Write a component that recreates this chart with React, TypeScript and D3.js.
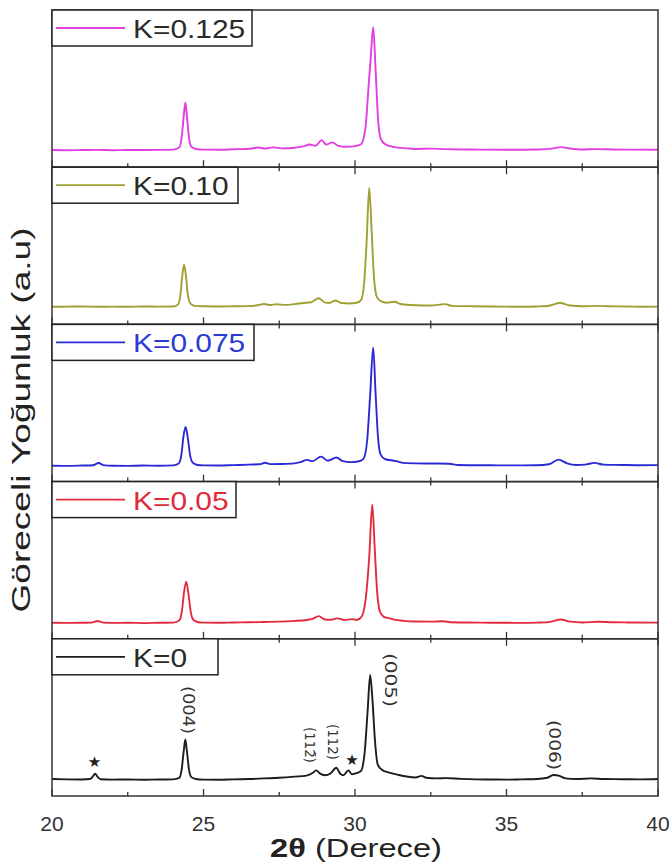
import React from "react";
import * as d3 from "d3";

// XRD patterns, x = 2theta (deg), y = relative intensity (0-100 per panel)
const k0125: [number, number][] = [
  [20.0, 10.9], [20.5, 10.8], [21.0, 10.9], [21.5, 11.0], [22.0, 10.8], [22.5, 10.9], [23.0, 10.9],
  [23.5, 11.0], [24.0, 11.2], [24.2, 12.5], [24.28, 19], [24.35, 33], [24.4, 41], [24.45, 33],
  [24.52, 19], [24.6, 13], [24.75, 11.6], [25.0, 11.2], [25.5, 11.1], [26.0, 11.4], [26.5, 11.7],
  [26.8, 12.5], [27.0, 11.9], [27.3, 12.6], [27.6, 12.0], [28.0, 12.4], [28.3, 13.2], [28.5, 14.4],
  [28.7, 13.6], [28.9, 17.2], [29.05, 14.4], [29.25, 15.8], [29.45, 13.6], [29.7, 13.0], [30.0, 13.4],
  [30.2, 14.6], [30.35, 26], [30.45, 52], [30.52, 70], [30.6, 89], [30.68, 62], [30.76, 31],
  [30.85, 18], [31.0, 14.5], [31.3, 12.8], [31.7, 12.0], [32.0, 11.6], [32.5, 11.8], [33.0, 11.5],
  [33.5, 11.3], [34.0, 11.2], [35.0, 11.1], [36.0, 11.3], [36.5, 11.8], [36.8, 12.8], [37.1, 11.9],
  [37.5, 11.3], [38.0, 11.5], [38.5, 11.3], [39.0, 11.2], [40.0, 11.1],
];

const k010: [number, number][] = [
  [20.0, 11.2], [20.5, 11.3], [21.0, 11.4], [21.5, 11.2], [22.0, 11.3], [22.5, 11.2], [23.0, 11.4],
  [23.5, 11.3], [24.0, 11.4], [24.15, 12.5], [24.24, 19], [24.3, 31], [24.36, 38], [24.42, 31],
  [24.49, 18], [24.58, 13], [24.7, 11.8], [25.0, 11.5], [25.5, 11.4], [26.0, 11.5], [26.5, 11.6],
  [26.8, 12.2], [27.0, 13.0], [27.2, 12.3], [27.4, 12.8], [27.7, 12.4], [28.0, 12.9], [28.3, 13.6],
  [28.55, 14.1], [28.8, 16.6], [29.0, 14.0], [29.15, 13.6], [29.35, 15.2], [29.55, 13.6], [29.8, 13.3],
  [30.05, 13.8], [30.2, 15.5], [30.3, 26], [30.38, 51], [30.47, 87], [30.55, 59], [30.63, 29],
  [30.72, 17.5], [30.85, 14.8], [31.05, 13.8], [31.3, 14.4], [31.5, 13.0], [32.0, 12.2], [32.5, 12.0],
  [32.97, 12.9], [33.2, 11.8], [33.8, 11.6], [34.5, 11.4], [35.0, 11.3], [35.5, 11.2], [36.0, 11.4],
  [36.4, 11.9], [36.77, 13.6], [37.1, 12.0], [37.5, 11.5], [38.0, 11.8], [38.4, 11.5], [39.0, 11.4],
  [39.5, 11.2], [40.0, 11.3],
];

const k0075: [number, number][] = [
  [20.0, 10.1], [20.5, 10.0], [21.0, 10.2], [21.35, 10.4], [21.54, 11.8], [21.7, 10.5], [22.0, 10.1],
  [22.5, 10.0], [23.0, 10.2], [23.5, 10.1], [24.0, 10.3], [24.18, 11.5], [24.27, 17], [24.34, 29],
  [24.41, 34.8], [24.48, 28], [24.56, 16.5], [24.65, 12], [24.8, 10.6], [25.0, 10.3], [25.5, 10.2],
  [26.0, 10.5], [26.5, 10.8], [26.85, 11.0], [27.03, 12.0], [27.2, 11.1], [27.6, 11.2], [28.0, 11.6],
  [28.2, 12.4], [28.42, 13.8], [28.6, 13.0], [28.88, 15.9], [29.1, 13.3], [29.39, 15.3], [29.6, 13.0],
  [29.85, 12.4], [30.1, 12.8], [30.28, 14.5], [30.4, 26], [30.5, 55], [30.6, 85.4], [30.68, 56],
  [30.76, 28], [30.85, 17], [31.0, 14.2], [31.2, 13.6], [31.36, 13.0], [31.6, 11.9], [32.0, 11.6],
  [32.5, 11.5], [33.1, 11.4], [33.4, 10.6], [34.0, 10.4], [34.5, 10.4], [35.0, 10.3], [35.5, 10.3],
  [36.0, 10.4], [36.4, 11.0], [36.72, 14.0], [37.0, 11.6], [37.3, 10.6], [37.6, 10.8], [37.9, 11.9],
  [38.2, 10.8], [38.8, 10.6], [39.4, 10.4], [40.0, 10.5],
];

const k005: [number, number][] = [
  [20.0, 10.2], [20.5, 10.1], [21.0, 10.2], [21.3, 10.3], [21.5, 11.3], [21.7, 10.3], [22.0, 10.1],
  [22.5, 10.2], [23.0, 10.0], [23.5, 10.2], [24.0, 10.3], [24.2, 11.6], [24.29, 18], [24.36, 30],
  [24.43, 36.3], [24.5, 29], [24.58, 17], [24.67, 12], [24.8, 10.7], [25.0, 10.3], [25.5, 10.2],
  [26.0, 10.4], [26.5, 10.5], [27.0, 10.7], [27.5, 10.9], [28.0, 11.4], [28.4, 12.0], [28.6, 12.7],
  [28.8, 14.4], [29.0, 12.3], [29.2, 12.1], [29.42, 13.0], [29.65, 11.9], [29.9, 12.5], [30.05, 12.0],
  [30.22, 14.2], [30.35, 25], [30.47, 52], [30.57, 85.4], [30.65, 58], [30.73, 30], [30.82, 17.5],
  [30.95, 14.0], [31.15, 13.0], [31.3, 12.2], [31.6, 11.4], [32.0, 11.0], [32.5, 10.9], [32.9, 11.2],
  [33.2, 10.5], [34.0, 10.3], [34.5, 10.2], [35.0, 10.2], [35.5, 10.1], [36.0, 10.3], [36.45, 10.8],
  [36.79, 12.3], [37.1, 10.9], [37.5, 10.4], [38.0, 10.8], [38.5, 10.5], [39.0, 10.4], [40.0, 10.3],
];

const k0: [number, number][] = [
  [20.0, 10.8], [20.5, 10.6], [21.0, 10.5], [21.25, 10.8], [21.35, 12.5], [21.42, 14.2], [21.5, 12.3],
  [21.6, 10.7], [22.0, 10.4], [22.5, 10.5], [23.0, 10.3], [23.5, 10.5], [24.0, 10.6], [24.2, 11.5],
  [24.28, 17], [24.35, 29], [24.4, 36], [24.45, 29], [24.52, 17], [24.6, 12], [24.75, 10.8],
  [25.0, 10.4], [25.5, 10.3], [26.0, 10.6], [26.5, 10.8], [27.0, 11.2], [27.5, 11.6], [28.0, 12.3],
  [28.4, 13.0], [28.6, 14.6], [28.72, 16.3], [28.85, 14.2], [29.0, 13.2], [29.2, 14.5], [29.38, 18],
  [29.52, 14.0], [29.62, 13.2], [29.78, 16.3], [29.9, 13.8], [30.05, 14.5], [30.2, 16.0], [30.32, 28],
  [30.42, 55], [30.5, 77], [30.58, 60], [30.66, 35], [30.75, 20], [30.9, 16.5], [31.1, 15.0],
  [31.4, 13.6], [31.7, 12.4], [32.0, 11.8], [32.2, 12.8], [32.35, 11.6], [32.7, 11.2], [33.0, 11.4],
  [33.5, 10.9], [34.0, 10.6], [34.5, 10.5], [35.0, 10.4], [35.5, 10.6], [36.0, 10.8], [36.35, 11.6],
  [36.55, 13.4], [36.75, 12.8], [36.95, 11.2], [37.3, 10.8], [37.8, 11.2], [38.2, 10.8], [38.8, 10.7],
  [39.4, 10.6], [40.0, 10.8],
];

const seriesData = [k0125, k010, k0075, k005, k0];
const seriesLabels = ["K=0.125", "K=0.10", "K=0.075", "K=0.05", "K=0"];
const seriesColors = ["#e23fe2", "#9fa034", "#2b2bd6", "#e42a3c", "#1c1c1c"];
const legendTextColors = ["#2a2a2a", "#2a2a2a", "#2b3ad4", "#e22a3c", "#2a2a2a"];

const majorTicks = [20, 25, 30, 35, 40];
const minorTicks = [22.5, 27.5, 32.5, 37.5];

// peak annotations on the K=0 pattern (x in degrees, y in panel units)
const peakLabels = [
  { text: "(004)", x: 24.49, y: 54.7, len: 48, size: 16 },
  { text: "(11\u0032\u0304)", x: 28.51, y: 32.4, len: 36, size: 14 },
  { text: "(112)", x: 29.27, y: 34.4, len: 36, size: 14 },
  { text: "(005)", x: 31.16, y: 73.8, len: 54, size: 16 },
  { text: "(006)", x: 36.6, y: 32.4, len: 50, size: 16 },
];
const stars = [
  { x: 21.4, y: 21.6 },
  { x: 29.9, y: 22.9 },
];

const W = 671;
const H = 863;
const font = "'Liberation Sans', Arial, sans-serif";

export default function App() {
  const x = d3.scaleLinear().domain([20, 40]).range([52, 658]);
  const panel = d3.scaleLinear().domain([0, 5]).range([10, 796]);
  const legendW = [200, 186, 202, 184, 166];

  return (
    <svg
      width={W}
      height={H}
      style={{ position: "absolute", left: 0, top: 0, background: "#fff" }}
      fontFamily={font}
    >
      <rect width={W} height={H} fill="#fff" />
      {seriesData.map((data, i) => {
        const top = panel(i);
        const bottom = panel(i + 1);
        const y = d3.scaleLinear().domain([0, 100]).range([bottom, top]);
        const line = d3
          .line<[number, number]>()
          .x((d) => x(d[0]))
          .y((d) => y(d[1]))
          .curve(d3.curveMonotoneX);
        return (
          <g key={i}>
            <path d={line(data) || ""} fill="none" stroke={seriesColors[i]} strokeWidth={1.9} strokeLinejoin="round" />
            <rect x={52} y={top} width={606} height={bottom - top} fill="none" stroke="#333" strokeWidth={1.5} />
            {/* ticks bottom (inward) */}
            {majorTicks.map((t) => (
              <line key={"bM" + t} x1={x(t)} x2={x(t)} y1={bottom} y2={bottom - 7} stroke="#333" strokeWidth={1.3} />
            ))}
            {minorTicks.map((t) => (
              <line key={"bm" + t} x1={x(t)} x2={x(t)} y1={bottom} y2={bottom - 4} stroke="#333" strokeWidth={1.3} />
            ))}
            {i > 0 &&
              majorTicks.map((t) => (
                <line key={"tM" + t} x1={x(t)} x2={x(t)} y1={top} y2={top + 7} stroke="#333" strokeWidth={1.3} />
              ))}
            {i > 0 &&
              minorTicks.map((t) => (
                <line key={"tm" + t} x1={x(t)} x2={x(t)} y1={top} y2={top + 4} stroke="#333" strokeWidth={1.3} />
              ))}
            {/* legend */}
            <rect x={52} y={top} width={legendW[i]} height={36} fill="#fff" stroke="#222" strokeWidth={1.5} />
            <line x1={56} x2={125} y1={top + 18} y2={top + 18} stroke={seriesColors[i]} strokeWidth={1.8} />
            <text
              transform={`translate(133,${top + 28}) scale(1.15,1)`}
              fontSize={26}
              fill={legendTextColors[i]}
            >
              {seriesLabels[i]}
            </text>
            {i === 4 &&
              peakLabels.map((p) => (
                <text
                  key={p.text}
                  transform={`translate(${x(p.x)},${y(p.y)}) rotate(90)`}
                  textAnchor="middle"
                  dominantBaseline="central"
                  fontSize={p.size}
                  textLength={p.len}
                  lengthAdjust="spacingAndGlyphs"
                  fill="#333"
                  fontFamily="'DejaVu Sans', sans-serif"
                >
                  {p.text}
                </text>
              ))}
            {i === 4 &&
              stars.map((s, j) => (
                <text
                  key={"s" + j}
                  x={x(s.x)}
                  y={y(s.y)}
                  textAnchor="middle"
                  dominantBaseline="central"
                  fontSize={15}
                  fill="#222"
                  fontFamily="'DejaVu Sans', sans-serif"
                >
                  ★
                </text>
              ))}
          </g>
        );
      })}
      {majorTicks.map((t) => (
        <text key={"l" + t} x={x(t)} y={831} textAnchor="middle" fontSize={21} fill="#333">
          {t}
        </text>
      ))}
      <text
        x={356}
        y={857}
        textAnchor="middle"
        fontSize={25}
        fill="#222"
        textLength={172}
        lengthAdjust="spacingAndGlyphs"
      >
        <tspan fontWeight="bold">2θ</tspan>
        <tspan> (Derece)</tspan>
      </text>
      <text
        transform="translate(30,420) rotate(-90)"
        textAnchor="middle"
        fontSize={25}
        fill="#222"
        textLength={385}
        lengthAdjust="spacingAndGlyphs"
      >
        Göreceli Yoğunluk (a.u)
      </text>
    </svg>
  );
}
